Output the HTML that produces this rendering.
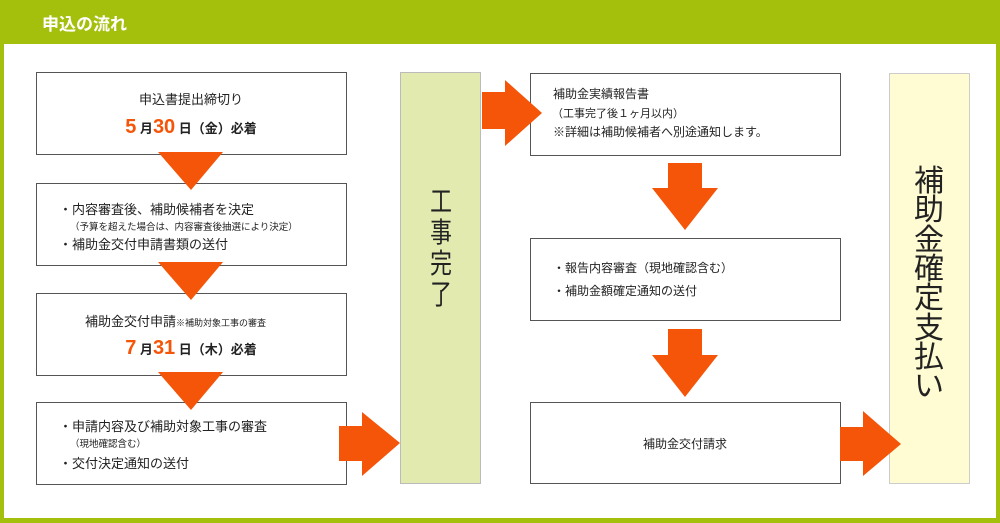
<!DOCTYPE html>
<html><head><meta charset="utf-8"><style>
html,body{margin:0;padding:0;background:#fff}
svg{display:block}
text{font-family:"Liberation Sans","Noto Sans CJK JP",sans-serif;fill:#222}
</style></head><body>
<svg width="1000" height="523" viewBox="0 0 1000 523" xmlns="http://www.w3.org/2000/svg">
<rect x="0" y="0" width="1000" height="523" fill="#a4bf0c"/>
<rect x="4" y="44" width="992" height="474" fill="#fff"/>
<text x="42" y="30" font-size="17" font-weight="bold" style="fill:#fff">申込の流れ</text>

<g fill="#fff" stroke="#555" stroke-width="1">
<rect x="36.5" y="72.5" width="310" height="82"/>
<rect x="36.5" y="183.5" width="310" height="82"/>
<rect x="36.5" y="293.5" width="310" height="82"/>
<rect x="36.5" y="402.5" width="310" height="82"/>
<rect x="530.5" y="73.5" width="310" height="82"/>
<rect x="530.5" y="238.5" width="310" height="82"/>
<rect x="530.5" y="402.5" width="310" height="81"/>
</g>
<rect x="400.5" y="72.5" width="80" height="411" fill="#e2eab0" stroke="#bbb"/>
<rect x="889.5" y="73.5" width="80" height="410" fill="#fffbd2" stroke="#ccc"/>

<g fill="#f55508">
<polygon points="158,152 223,152 191,190"/>
<polygon points="158,262 223,262 191,300"/>
<polygon points="158,372 223,372 191,410"/>
<polygon points="339,426 362,426 362,412 400,443 362,476 362,461 339,461"/>
<polygon points="482,92 505,92 505,80 542,113 505,146 505,129 482,129"/>
<polygon points="668,163 702,163 702,188 718,188 685,230 652,188 668,188"/>
<polygon points="668,329 702,329 702,355 718,355 685,397 652,355 668,355"/>
<polygon points="840,427 863,427 863,411 901,444 863,476 863,461 840,461"/>
</g>

<text x="191" y="104" font-size="13" text-anchor="middle">申込書提出締切り</text>
<text x="191" y="133" text-anchor="middle" font-weight="bold"><tspan font-size="20" style="fill:#f55508">5</tspan><tspan font-size="13"> 月</tspan><tspan font-size="20" style="fill:#f55508">30</tspan><tspan font-size="13"> 日（金）必着</tspan></text>

<text x="59" y="214" font-size="13">・内容審査後、補助候補者を決定</text>
<text x="70" y="230" font-size="9.5">（予算を超えた場合は、内容審査後抽選により決定）</text>
<text x="59" y="249" font-size="13">・補助金交付申請書類の送付</text>

<text x="85" y="326" font-size="13">補助金交付申請<tspan font-size="9">※補助対象工事の審査</tspan></text>
<text x="191" y="354" text-anchor="middle" font-weight="bold"><tspan font-size="20" style="fill:#f55508">7</tspan><tspan font-size="13"> 月</tspan><tspan font-size="20" style="fill:#f55508">31</tspan><tspan font-size="13"> 日（木）必着</tspan></text>

<text x="59" y="431" font-size="13">・申請内容及び補助対象工事の審査</text>
<text x="70" y="447" font-size="9.5">（現地確認含む）</text>
<text x="59" y="468" font-size="13">・交付決定通知の送付</text>

<text x="553" y="98" font-size="12">補助金実績報告書</text>
<text x="552" y="117" font-size="11">（工事完了後１ヶ月以内）</text>
<text x="553" y="136" font-size="12">※詳細は補助候補者へ別途通知します。</text>

<text x="553" y="272" font-size="12">・報告内容審査（現地確認含む）</text>
<text x="553" y="295" font-size="12">・補助金額確定通知の送付</text>

<text x="685" y="448" font-size="12" text-anchor="middle">補助金交付請求</text>

<g font-size="28" text-anchor="middle" transform="translate(441,0) scale(0.78,1)">
<text x="0" y="211">工</text>
<text x="0" y="242">事</text>
<text x="0" y="273">完</text>
<text x="0" y="304">了</text>
</g>
<g font-size="30" text-anchor="middle">
<text x="929" y="191">補</text>
<text x="929" y="220">助</text>
<text x="929" y="250">金</text>
<text x="929" y="279">確</text>
<text x="929" y="308">定</text>
<text x="929" y="338">支</text>
<text x="929" y="367">払</text>
<text x="929" y="396">い</text>
</g>
</svg>
</body></html>
